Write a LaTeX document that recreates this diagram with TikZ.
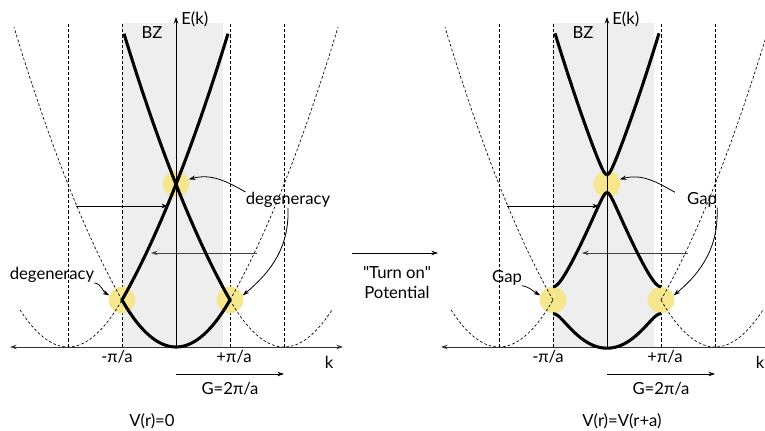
\documentclass[tikz,border=0pt]{standalone}
\usepackage{fontspec}
\setmainfont{Lato}[Ligatures=TeXOff]
\usetikzlibrary{positioning,arrows.meta}
\definecolor{zonegray}{HTML}{EEEEEE}
\definecolor{spotyellow}{HTML}{F6E68E}

\begin{document}
\begin{tikzpicture}[
    x=0.75pt, y=0.75pt,
    >={Stealth[length=5pt,width=3.4pt]},
    font=\fontsize{12.5}{15}\selectfont,
    band/.style={line width=2.3pt, line join=miter},
    ghost/.style={line width=0.5pt, dash pattern=on 2pt off 1.6pt},
    zoneline/.style={line width=0.6pt, dash pattern=on 2.4pt off 1.6pt},
    spot/.style={circle, fill=spotyellow, minimum size=20pt, inner sep=0pt},
    lbl/.style={inner sep=0pt},
    arrow/.style={->, line width=0.6pt},
    declare function={
        fb(\u)=47+1.76*\u+0.0071*\u*\u;
        cc(\k)=47*(\k/54)*(\k/54);
        lo(\k)=162.74+0.0071*\k*\k-veclen(2.527*\k,9.5);
        up(\k)=162.74+0.0071*\k*\k+veclen(2.527*\k,9.5);
        mid(\k)=(lo(\k)+cc(\k))/2+veclen((lo(\k)-cc(\k))/2,13.5);
        bot(\k)=(lo(\k)+cc(\k))/2-veclen((lo(\k)-cc(\k))/2,13.5);
    },
]
\useasboundingbox (0,0) rectangle (765,430);
\clip (0,0) rectangle (765,430);

\foreach \ox/\pn in {176/L,607/R} {
  \begin{scope}[shift={(\ox,83)}]
    \fill[zonegray] (-54,0) rectangle (47,324);
    \foreach \k in {-108,-54,54,108}
        \draw[zoneline] (\k,0) -- (\k,324);
    \node[spot] (top\pn) at (0,163) {};
    \node[spot] (lft\pn) at (-54,47) {};
    \node[spot] (rgt\pn) at (54,47) {};
    \draw[ghost] plot[domain=0:108,samples=40] ({-54-\x},{fb(\x)});
    \draw[ghost] plot[domain=0:108,samples=40] ({54+\x},{fb(\x)});
    \draw[ghost] plot[domain=-156:-54,samples=30] (\x,{cc(\x+108)});
    \draw[ghost] plot[domain=54:156,samples=30] (\x,{cc(\x-108)});
    \coordinate (o\pn) at (0,0);
    \coordinate (kw\pn) at (-166,0);
    \coordinate (ke\pn) at (167,0);
    \coordinate (en\pn) at (0,330);
    \draw[<->, line width=0.7pt, black!80] (kw\pn) -- (ke\pn);
    \draw[->, line width=0.7pt] (o\pn) -- (en\pn);
    \node[lbl, anchor=west] (ek\pn) at (5,328) {E(k)};
    \node[lbl] (bz\pn) at (-24,314) {BZ};
    \node[lbl] (kk\pn) at (153,-15) {k};
    \node[lbl] (mpi\pn) at (-59,-10) {-π/a};
    \node[lbl] (ppi\pn) at (58,-10) {+π/a};
    \coordinate (gs\pn) at (0,-27);
    \coordinate (ge\pn) at (108,-27);
    \draw[arrow] (gs\pn) -- (ge\pn);
    \node[lbl] (gg\pn) at (54,-42) {G=2π/a};
    \coordinate (ua\pn) at (-100,141);
    \coordinate (ub\pn) at (-8,141);
    \coordinate (la\pn) at (81,94);
    \coordinate (lb\pn) at (-25,94);
    \draw[arrow] (ua\pn) -- (ub\pn);
    \draw[arrow, black!75] (la\pn) -- (lb\pn);
  \end{scope}
}

\begin{scope}[shift={(176,83)}]
  \draw[band] plot[domain=-52:54,samples=50] (\x,{fb(54-\x)})
      -- plot[domain=-54:54,samples=50] ({-\x},{cc(\x)})
      -- plot[domain=-54:52,samples=50] (\x,{fb(\x+54)});
  \node[lbl] (degR) at (112,147) {degeneracy};
  \node[lbl] (degL) at (-124,72) {degeneracy};
  \draw[arrow] (degR.north west) to[out=150,in=15] (topL.20);
  \draw[arrow] (degR.south) to[out=-88,in=40] (rgtL.20);
  \draw[arrow] (degL.south east) to[out=-10,in=150] (lftL.160);
\end{scope}

\begin{scope}[shift={(607,83)}]
  \draw[band] plot[domain=-52:52,samples=61] (\x,{up(\x)});
  \draw[band] plot[domain=-54:54,samples=81] (\x,{mid(\x)});
  \draw[band] plot[domain=-54:54,samples=61] (\x,{bot(\x)});
  \node[lbl] (gapR) at (95,147) {Gap};
  \node[lbl] (gapL) at (-100,69) {Gap};
  \draw[arrow] ([xshift=-9pt]gapR.north west) to[out=150,in=15] (topR.20);
  \draw[arrow] (gapR.south east) to[out=-88,in=40] (rgtR.20);
  \draw[arrow] (gapL.south east) to[out=-10,in=150] (lftR.160);
\end{scope}

\coordinate (tw) at (352,177);
\coordinate (te) at (438,177);
\draw[arrow] (tw) -- (te);
\node[lbl, align=center] (turn) at (397,147) {"Turn on"\\Potential};
\node[lbl] (vzero) at (152,9) {V(r)=0};
\node[lbl] (vper) at (622,9) {V(r)=V(r+a)};
\end{tikzpicture}
\end{document}
